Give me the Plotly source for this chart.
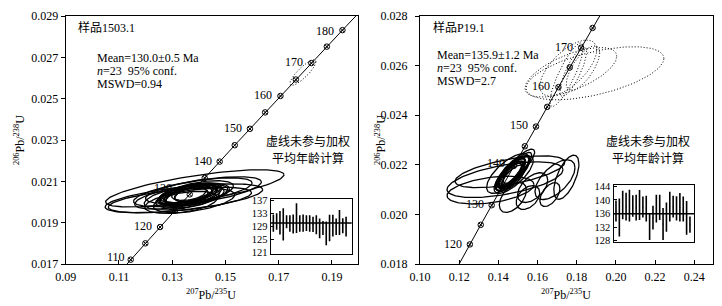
import numpy as np
import plotly.graph_objects as go

# decay constants (per year)
LAMBDA_238 = 1.55125e-10
LAMBDA_235 = 9.8485e-10

# ---------------- Panel A : sample 1503.1 ----------------
a_title = "样品1503.1"
a_stats = ["Mean=130.0±0.5 Ma", "<i>n</i>=23\u00a0 95% conf.", "MSWD=0.94"]
# ellipse centres (207Pb/235U, 206Pb/238U), 2-sigma half widths, error correlation
a_x = [0.1385, 0.1344, 0.1329, 0.1334, 0.1366, 0.1400, 0.1350, 0.1395,
       0.1365, 0.1370, 0.1360, 0.1375, 0.1355, 0.1380, 0.1368, 0.1372,
       0.1362, 0.1385, 0.1350, 0.1378, 0.1358, 0.1390, 0.1345]
a_y = [0.02066, 0.02018, 0.02010, 0.02026, 0.02005, 0.02055, 0.02000, 0.02050,
       0.02035, 0.02040, 0.02030, 0.02045, 0.02025, 0.02040, 0.02038, 0.02032,
       0.02042, 0.02036, 0.02030, 0.02048, 0.02020, 0.02045, 0.02022]
a_ex = [0.0335, 0.0296, 0.0269, 0.0175, 0.0169, 0.0200, 0.0120, 0.0240,
        0.0120, 0.0100, 0.0090, 0.0110, 0.0080, 0.0070, 0.0060, 0.0095,
        0.0105, 0.0130, 0.0100, 0.0080, 0.0120, 0.0140, 0.0150]
a_ey = [0.00090, 0.00070, 0.00062, 0.00060, 0.00060, 0.00062, 0.00052, 0.00072,
        0.00055, 0.00050, 0.00045, 0.00048, 0.00042, 0.00040, 0.00035, 0.00052,
        0.00046, 0.00055, 0.00050, 0.00040, 0.00050, 0.00058, 0.00060]
a_rho = [0.73, 0.60, 0.56, 0.60, 0.50, 0.60, 0.40, 0.65,
         0.50, 0.50, 0.50, 0.55, 0.50, 0.50, 0.50, 0.45,
         0.55, 0.50, 0.50, 0.50, 0.45, 0.55, 0.50]
# excluded (dotted) analyses
a_dx = [0.1791]
a_dy = [0.02626]
a_dex = [0.0049]
a_dey = [0.00062]
a_drho = [0.85]
a_tick_ages = [110, 115, 120, 125, 130, 135, 140, 145, 150, 155, 160, 165, 170, 175, 180]
a_label_ages = [110, 120, 130, 140, 150, 160, 170, 180]
a_inset_age = [130.0, 130.5, 130.1, 129.6, 130.4, 129.9, 129.7, 131.5, 129.9, 130.0,
               130.0, 129.9, 129.6, 129.5, 128.4, 128.5, 126.9, 128.5, 129.2, 128.9,
               130.2, 129.2, 128.9]
a_inset_err = [2.6, 2.5, 3.6, 4.9, 2.0, 2.5, 2.9, 4.5, 2.5, 2.6,
               2.4, 2.5, 2.3, 2.9, 3.0, 2.1, 3.6, 4.0, 3.3, 2.5,
               3.8, 2.3, 3.0]
a_mean = 130.0
a_xticks = [0.09, 0.11, 0.13, 0.15, 0.17, 0.19]
a_yticks = [0.017, 0.019, 0.021, 0.023, 0.025, 0.027, 0.029]
a_inset_ticks = [121, 125, 129, 133, 137]

# ---------------- Panel B : sample P19.1 ----------------
b_title = "样品P19.1"
b_stats = ["Mean=135.9±1.2 Ma", "<i>n</i>=23\u00a0 95% conf.", "MSWD=2.7"]
b_x = [0.1434, 0.1459, 0.1360, 0.1575, 0.1689, 0.1747, 0.1551, 0.1663, 0.1474,
       0.1470, 0.1465, 0.1475, 0.1480, 0.1460, 0.1472, 0.1468, 0.1485, 0.1455,
       0.1478, 0.1462, 0.1450, 0.1490, 0.1475]
b_y = [0.02140, 0.02172, 0.02098, 0.02108, 0.02140, 0.02150, 0.02068, 0.02080, 0.02068,
       0.02165, 0.02160, 0.02170, 0.02175, 0.02155, 0.02168, 0.02162, 0.02180, 0.02150,
       0.02160, 0.02172, 0.02165, 0.02185, 0.02150]
b_ex = [0.0296, 0.0280, 0.0222, 0.0077, 0.0102, 0.0064, 0.0060, 0.0051, 0.0069,
        0.0070, 0.0060, 0.0080, 0.0055, 0.0075, 0.0090, 0.0050, 0.0085, 0.0065,
        0.0100, 0.0072, 0.0110, 0.0095, 0.0060]
b_ey = [0.00072, 0.00064, 0.00056, 0.00060, 0.00080, 0.00089, 0.00048, 0.00048, 0.00060,
        0.00060, 0.00055, 0.00065, 0.00050, 0.00060, 0.00070, 0.00045, 0.00070, 0.00058,
        0.00075, 0.00062, 0.00080, 0.00078, 0.00050]
b_rho = [0.55, 0.60, 0.40, 0.50, 0.60, 0.60, 0.40, 0.50, 0.50,
         0.80, 0.80, 0.80, 0.75, 0.75, 0.80, 0.80, 0.85, 0.70,
         0.75, 0.80, 0.70, 0.85, 0.70]
b_dx = [0.1893, 0.1770, 0.1757, 0.1748, 0.1782, 0.1832]
b_dy = [0.02569, 0.02573, 0.02590, 0.02563, 0.02576, 0.02590]
b_dex = [0.0352, 0.0234, 0.0145, 0.0085, 0.0068, 0.0085]
b_dey = [0.00107, 0.00100, 0.00113, 0.00128, 0.00100, 0.00090]
b_drho = [0.56, 0.64, 0.65, 0.85, 0.80, 0.70]
b_tick_ages = [120, 125, 130, 135, 140, 145, 150, 155, 160, 165, 170, 175]
b_label_ages = [120, 130, 140, 150, 160, 170]
b_inset_age = [136.7, 134.8, 138.5, 138.0, 138.3, 138.2, 137.7, 138.5, 137.9, 137.4,
               132.1, 134.8, 137.4, 137.8, 132.9, 134.9, 138.0, 138.0, 137.5, 137.8,
               137.3, 134.7, 132.7]
b_inset_err = [3.1, 5.6, 4.2, 4.1, 4.7, 3.2, 3.8, 4.4, 3.1, 3.8,
               3.9, 3.5, 4.1, 3.7, 4.7, 4.3, 4.4, 3.2, 3.6, 4.2,
               3.7, 5.0, 2.4]
b_mean = 135.9
b_xticks = [0.10, 0.12, 0.14, 0.16, 0.18, 0.20, 0.22, 0.24]
b_yticks = [0.018, 0.020, 0.022, 0.024, 0.026, 0.028]
b_inset_ticks = [128, 132, 136, 140, 144]

note_lines = ["虚线未参与加权", "平均年龄计算"]
xtitle = "<sup>207</sup>Pb/<sup>235</sup>U"
ytitle = "<sup>206</sup>Pb/<sup>238</sup>U"

SERIF = "Liberation Serif, Noto Sans CJK SC, serif"
CJK = "Noto Sans CJK SC, sans-serif"
W, H = 722, 306


def conc(age_ma):
    t = np.asarray(age_ma, dtype=float) * 1e6
    return np.exp(LAMBDA_235 * t) - 1, np.exp(LAMBDA_238 * t) - 1


def ellipses(cx, cy, ex, ey, rho):
    th = np.linspace(0, 2 * np.pi, 120)
    xs, ys = [], []
    for x0, y0, a, b, r in zip(cx, cy, ex, ey, rho):
        xs += list(x0 + a * np.cos(th)) + [None]
        ys += list(y0 + b * (r * np.cos(th) + np.sqrt(1 - r * r) * np.sin(th))) + [None]
    return xs, ys


fig = go.Figure()
annotations = []


def panel(xa, ya, ell, dell, tick_ages, label_ages, age_rng, shifts):
    xs, ys = ellipses(*ell)
    fig.add_trace(go.Scatter(x=xs, y=ys, mode="lines", xaxis=xa, yaxis=ya,
                             line=dict(color="black", width=1.3), hoverinfo="skip"))
    xs, ys = ellipses(*dell)
    fig.add_trace(go.Scatter(x=xs, y=ys, mode="lines", xaxis=xa, yaxis=ya,
                             line=dict(color="black", width=1, dash="1px,2px"),
                             hoverinfo="skip"))
    cx, cy = conc(np.linspace(age_rng[0], age_rng[1], 300))
    fig.add_trace(go.Scatter(x=cx, y=cy, mode="lines", xaxis=xa, yaxis=ya,
                             line=dict(color="black", width=1), hoverinfo="skip"))
    tx, ty = conc(tick_ages)
    fig.add_trace(go.Scatter(x=tx, y=ty, mode="markers", xaxis=xa, yaxis=ya,
                             marker=dict(symbol="circle-x-open", size=5.5, color="black",
                                         line=dict(width=1, color="black")),
                             hoverinfo="skip"))
    lx, ly = conc(label_ages)
    for age, x, y in zip(label_ages, lx, ly):
        dx, dy = shifts.get(age, (-6, 1))
        annotations.append(dict(x=x, y=y, xref=xa, yref=ya, text=str(age), showarrow=False,
                                xanchor="right", yanchor="middle", xshift=dx, yshift=dy,
                                font=dict(family=SERIF, size=12, color="black")))


panel("x", "y", (a_x, a_y, a_ex, a_ey, a_rho), (a_dx, a_dy, a_dex, a_dey, a_drho),
      a_tick_ages, a_label_ages, (100, 190), {130: (-16, 6), 110: (-4, 3), 180: (-6, -1)})
panel("x2", "y2", (b_x, b_y, b_ex, b_ey, b_rho), (b_dx, b_dy, b_dex, b_dey, b_drho),
      b_tick_ages, b_label_ages, (100, 190), {140: (-7, 3), 150: (-6, 2), 120: (-6, 0)})

# insets
fig.add_trace(go.Scatter(x=list(range(1, len(a_inset_age) + 1)), y=a_inset_age, mode="markers",
                         xaxis="x3", yaxis="y3", marker=dict(size=1, color="black"),
                         error_y=dict(type="data", array=a_inset_err, width=0, thickness=1.6,
                                      color="black"), hoverinfo="skip"))
fig.add_trace(go.Scatter(x=list(range(1, len(b_inset_age) + 1)), y=b_inset_age, mode="markers",
                         xaxis="x4", yaxis="y4", marker=dict(size=1, color="black"),
                         error_y=dict(type="data", array=b_inset_err, width=0, thickness=1.6,
                                      color="black"), hoverinfo="skip"))

shapes = [
    dict(type="line", xref="x3 domain", yref="y3", x0=0, x1=1, y0=a_mean, y1=a_mean,
         line=dict(color="black", width=1.5)),
    dict(type="line", xref="x4 domain", yref="y4", x0=0, x1=1, y0=b_mean, y1=b_mean,
         line=dict(color="black", width=1.5)),
]


def P(x, y):
    return x / W, 1 - y / H


def text(x, y, s, font=SERIF, size=12, anchor="left", angle=0):
    px, py = P(x, y)
    annotations.append(dict(x=px, y=py, xref="paper", yref="paper", text=s, showarrow=False,
                            xanchor=anchor, yanchor="middle", textangle=angle,
                            font=dict(family=font, size=size, color="black")))


text(76, 27, a_title)
text(431, 27, b_title)
for i, s in enumerate(a_stats):
    text(95, 58 + 13 * i, s)
for i, s in enumerate(b_stats):
    text(435, 55 + 13 * i, s)
text(308, 141, note_lines[0], CJK, 12, "center")
text(308, 157, note_lines[1], CJK, 12, "center")
text(648, 141, note_lines[0], CJK, 12, "center")
text(648, 157, note_lines[1], CJK, 12, "center")
text(211, 294, xtitle, SERIF, 12, "center")
text(566, 294, xtitle, SERIF, 12, "center")
text(20, 140, ytitle, SERIF, 12, "center", -90)
text(381, 140, ytitle, SERIF, 12, "center", -90)

tickfont = dict(family=SERIF, size=12, color="black")
base = dict(showline=True, mirror=True, linecolor="black", linewidth=1,
            ticklen=4, tickcolor="black", tickwidth=1, showgrid=False, zeroline=False,
            tickfont=tickfont, automargin=False)
xmain = dict(base, ticks="inside", ticklabelstandoff=2)
ymain = dict(base, ticks="outside")
ins = dict(showline=True, mirror=True, linecolor="black", linewidth=1.2, showgrid=False,
           zeroline=False, automargin=False)

fig.update_layout(
    width=W, height=H, margin=dict(l=0, r=0, t=0, b=0, pad=0), showlegend=False,
    paper_bgcolor="white", plot_bgcolor="rgba(0,0,0,0)",
    xaxis=dict(xmain, domain=[65.7 / W, 358 / W], range=[0.09, 0.1998], anchor="y",
               tickvals=a_xticks, tickformat=".2f"),
    yaxis=dict(ymain, domain=[42 / H, 290 / H], range=[0.017, 0.029], anchor="x",
               tickvals=a_yticks, tickformat=".3f"),
    xaxis2=dict(xmain, domain=[420 / W, 712.7 / W], range=[0.10, 0.2494], anchor="y2",
                tickvals=b_xticks, tickformat=".2f"),
    yaxis2=dict(ymain, domain=[42 / H, 290 / H], range=[0.018, 0.028], anchor="x2",
                tickvals=b_yticks, tickformat=".3f", ticklabelstandoff=5),
    xaxis3=dict(ins, domain=[270.7 / W, 351.7 / W], range=[0.2, 24.7], anchor="y3",
                showticklabels=False, ticks=""),
    yaxis3=dict(ins, domain=[52.3 / H, 107.3 / H], range=[120.7, 137.4], anchor="x3",
                tickvals=a_inset_ticks, ticks="inside", ticklen=3, tickcolor="black",
                tickfont=dict(family=SERIF, size=10.5, color="black")),
    xaxis4=dict(ins, domain=[613.5 / W, 694 / W], range=[0.26, 24.2], anchor="y4",
                showticklabels=False, ticks=""),
    yaxis4=dict(ins, domain=[63.7 / H, 120.7 / H], range=[127.5, 144.3], anchor="x4",
                tickvals=b_inset_ticks, ticks="inside", ticklen=3, tickcolor="black",
                tickfont=dict(family=SERIF, size=10.5, color="black")),
    annotations=annotations, shapes=shapes,
)

fig.write_html("out.html", config={"displayModeBar": False},
               post_script="document.body.style.margin='0';document.body.style.overflow='hidden';")
